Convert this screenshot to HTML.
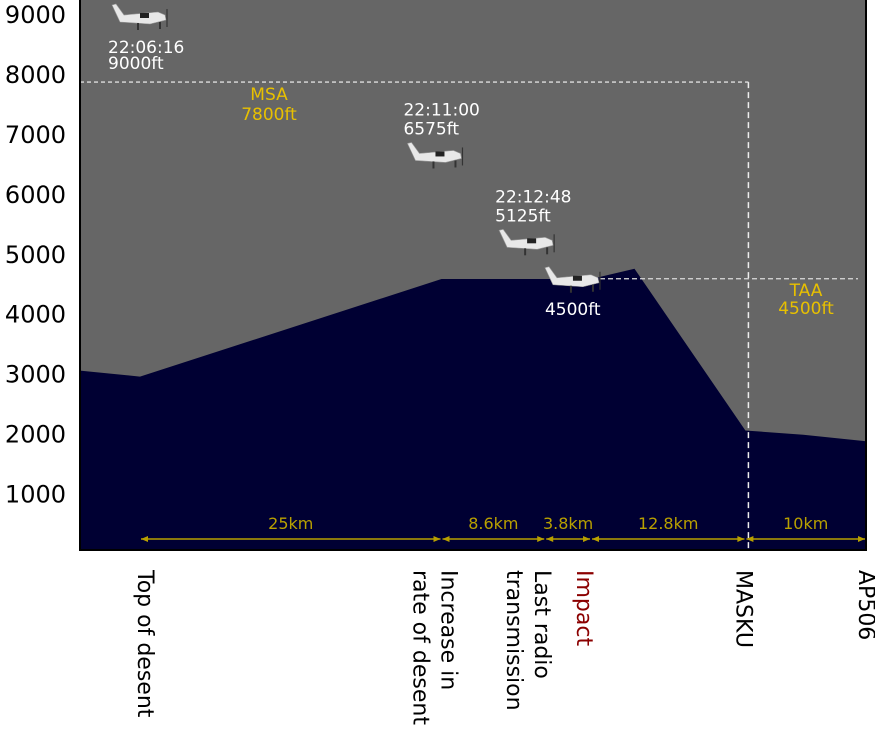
<!DOCTYPE html>
<html><head><meta charset="utf-8"><style>
body{margin:0;background:#fff;}
svg{display:block;font-family:"DejaVu Sans","Liberation Sans",sans-serif;}
</style></head><body>
<svg id="chart" width="875" height="753" viewBox="0 0 875 753">
<rect x="80" y="0" width="786" height="550" fill="#666666"/>
<g id="g"></g>
</svg>
<script>
const yTicks=[1000,2000,3000,4000,5000,6000,7000,8000,9000];
const terrainKm=[-5,0,25,37.4,41,50.2,55,60.2];
const terrainFt=[3050,2950,4580,4580,4750,2050,1980,1870];
const segKm=[25,8.6,3.8,12.8,10];
const segLabels=["25km","8.6km","3.8km","12.8km","10km"];
const planeKm=[0,24.5,32.1,35.9];
const planeFt=[9000,6575,5125,4500];
const planeLabels=[["22:06:16","9000ft"],["22:11:00","6575ft"],["22:12:48","5125ft"],["","4500ft"]];
const planeLabelAbove=[false,true,true,false];
const msaFt=7800, taaFt=4500;
const wpKm=[0,25,33.6,37.4,50.2,60.2];
const wpLabels=[["Top of desent"],["Increase in","rate of desent"],["Last radio","transmission"],["Impact"],["MASKU"],["AP506"]];

const NS="http://www.w3.org/2000/svg";
const g=document.getElementById('g');
const X=km=>140+km*12.06;
const Y=ft=>553.3-ft*0.0599;
function el(t,a,p){const e=document.createElementNS(NS,t);for(const k in a)e.setAttribute(k,a[k]);(p||g).appendChild(e);return e;}

let pts=terrainKm.map((k,i)=>X(k).toFixed(1)+','+Y(terrainFt[i]).toFixed(1));
pts.unshift('80,550');pts.push('866,550');
pts[1]='80,'+Y(terrainFt[0]).toFixed(1);
let ter=el('polygon',{points:pts.join(' '),fill:'#000033'});



const xM=X(wpKm[4])+3;
let l1=el('line',{x1:80,x2:xM,y1:Y(msaFt)-4,y2:Y(msaFt)-4,stroke:'#ddd','stroke-width':1.3,'stroke-dasharray':'4,3'});

let l2=el('line',{x1:xM,x2:xM,y1:Y(msaFt)-4,y2:550,stroke:'#eee','stroke-width':1.5,'stroke-dasharray':'6,4'});

let l3=el('line',{x1:600,x2:858,y1:Y(taaFt)-5,y2:Y(taaFt)-5,stroke:'#ddd','stroke-width':1.3,'stroke-dasharray':'5,3'});

function txt(x,y,s,a,name){const t=el('text',Object.assign({x:x,y:y},a));t.textContent=s;return t;}
txt(269,100,'MSA',{fill:'#e8c000','font-size':17,'text-anchor':'middle'},'msa-label');
txt(269,120,'7800ft',{fill:'#e8c000','font-size':17,'text-anchor':'middle'},'msa-value');
txt(806,296,'TAA',{fill:'#e8c000','font-size':17,'text-anchor':'middle'},'taa-label');
txt(806,314,'4500ft',{fill:'#e8c000','font-size':17,'text-anchor':'middle'},'taa-value');

let ax=el('line',{x1:80,x2:80,y1:0,y2:551,stroke:'#000','stroke-width':2});

let bx=el('line',{x1:79,x2:866,y1:550,y2:550,stroke:'#000','stroke-width':2});

let rx=el('line',{x1:866,x2:866,y1:0,y2:551,stroke:'#000','stroke-width':2});

yTicks.forEach(v=>{txt(66,Y(v)+9,String(v),{fill:'#000','font-size':24,'text-anchor':'end'},'y-tick-label');});

let c=0;
segKm.forEach((s,i)=>{
 const a=X(c)+1,b=X(c+s)-1,y=539;
 const ln=el('line',{x1:a,x2:b,y1:y,y2:y,stroke:'#b8a000','stroke-width':1.5});
 
 el('polygon',{points:`${a},${y} ${a+7},${y-3} ${a+7},${y+3}`,fill:'#b8a000'});
 el('polygon',{points:`${b},${y} ${b-7},${y-3} ${b-7},${y+3}`,fill:'#b8a000'});
 txt((a+b)/2,529,segLabels[i],{fill:'#b8a000','font-size':16,'text-anchor':'middle'},'distance-label');
 c+=s;
});

function plane(cx,cy){
 const p=el('g',{transform:`translate(${cx},${cy})`});
 
 el('path',{d:'M-28,-12 L-24,-13 L-16,-2 L18,-5 L25,-2 L26,3 L10,7 L-20,5 Z',fill:'#e8e8e8',stroke:'#999','stroke-width':0.6},p);
 el('rect',{x:0,y:-4,width:9,height:5,fill:'#222'},p);
 el('line',{x1:27,y1:-8,x2:27,y2:10,stroke:'#333','stroke-width':1.2},p);
 el('line',{x1:-2,y1:6,x2:-2,y2:13,stroke:'#333','stroke-width':2},p);
 el('line',{x1:20,y1:5,x2:20,y2:12,stroke:'#333','stroke-width':2},p);
}
planeKm.forEach((k,i)=>{
 const cx=X(k),cy=Math.max(Y(planeFt[i])-4,17);
 plane(cx,cy);
 const L=planeLabels[i];
 const lx=cx-32;
 if(planeLabelAbove[i]){
  txt(lx,cy-40,L[0],{fill:'#fff','font-size':17},'time-label');
  txt(lx,cy-21,L[1],{fill:'#fff','font-size':17},'altitude-label');
 }else{
  if(L[0])txt(lx,cy+36,L[0],{fill:'#fff','font-size':17},'time-label');
  txt(L[0]?lx:cx-28,L[0]?cy+52:cy+35,L[1],{fill:'#fff','font-size':17},'altitude-label');
 }
});

const wpShift=[7,-5,-15,-5,0,2];
wpKm.forEach((k,i)=>{
 const L=wpLabels[i];const x=X(k)+wpShift[i];
 L.forEach((s,j)=>{
  const off=-(j-(L.length-1)/2)*28;
  txt(0,0,s,{fill:i==3?'#8b0000':'#000','font-size':22,transform:`translate(${x-9+off},570) rotate(90)`},'waypoint-label');
 });
});
</script>
</body></html>
